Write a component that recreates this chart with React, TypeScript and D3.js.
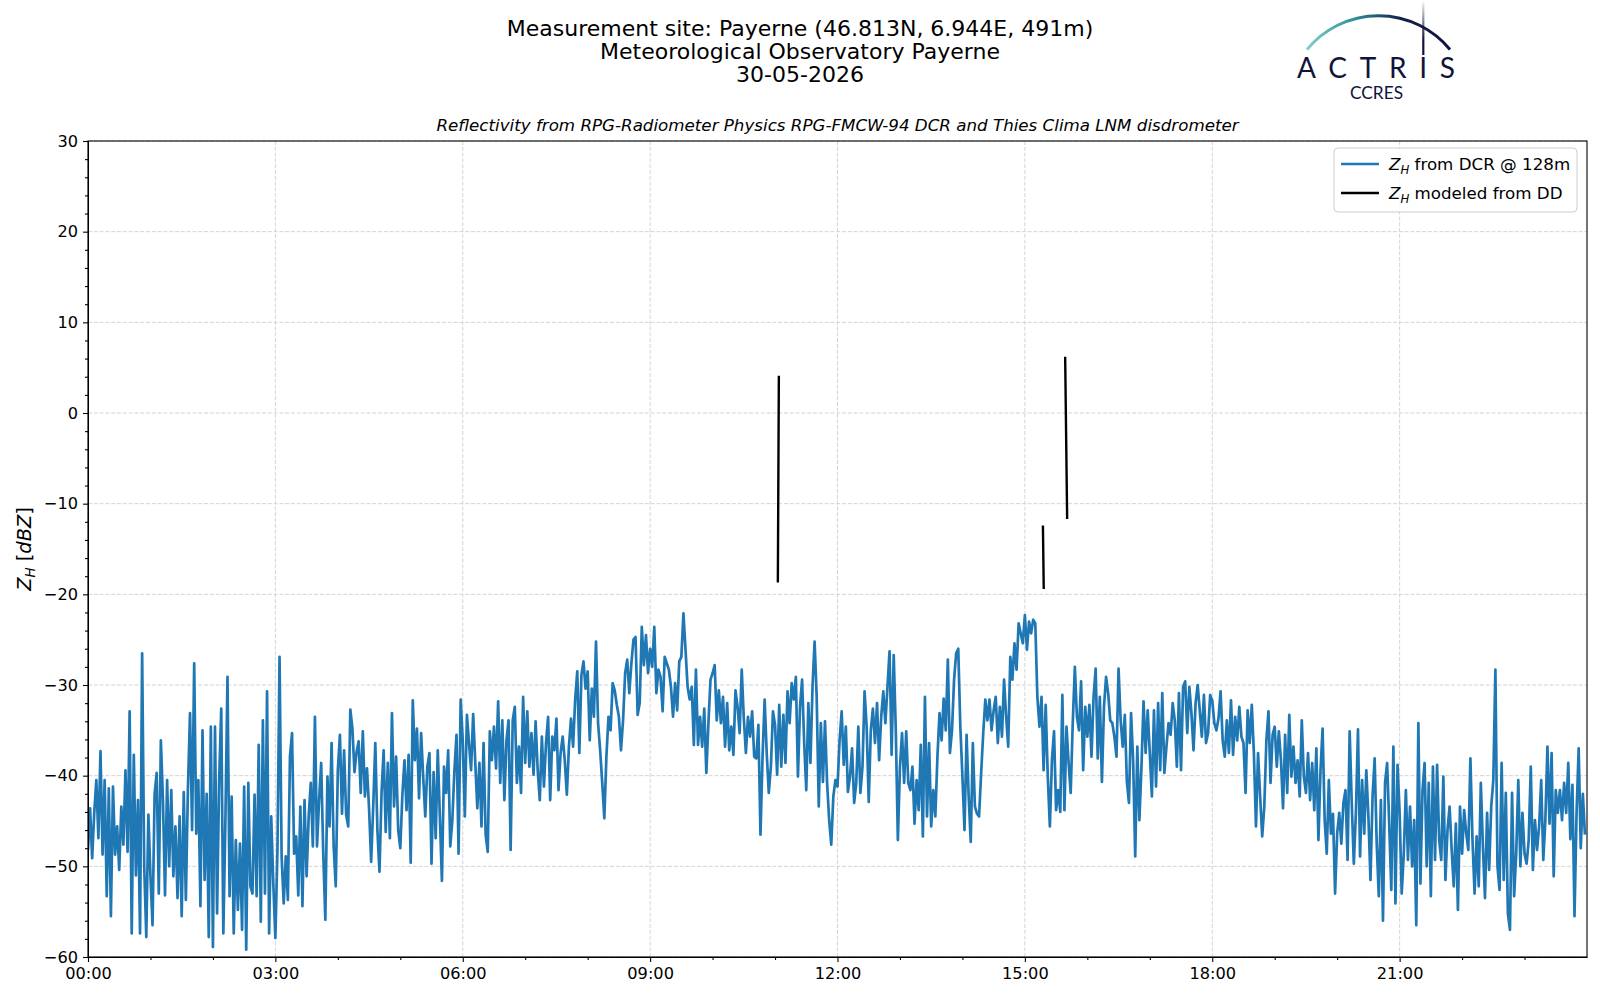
import { useEffect, useRef } from 'react';
import * as d3 from 'd3';

const titleLines = [
  'Measurement site: Payerne (46.813N, 6.944E, 491m)',
  'Meteorological Observatory Payerne',
  '30-05-2026',
];
const subtitle = 'Reflectivity from RPG-Radiometer Physics RPG-FMCW-94 DCR and Thies Clima LNM disdrometer';

const xTickHours = [0, 3, 6, 9, 12, 15, 18, 21];
const xTickLabels = ['00:00', '03:00', '06:00', '09:00', '12:00', '15:00', '18:00', '21:00'];
const yTicks = [-60, -50, -40, -30, -20, -10, 0, 10, 20, 30];

// DCR reflectivity at 128 m, one value every 2 minutes (30 per hour row)
const dcrStepMinutes = 2;
const dcrZh: number[] = [
  // 00h
  -48.2, -43.6, -49.1, -44.1, -40.5, -46.9, -37.3, -48.7, -40.5, -53.3, -41.4, -55.5, -41.2, -48.7, -45.6, -50.4, -43.4, -47.6, -39.4, -48.4, -32.9, -57.4, -37.7, -51.0, -42.7, -57.4, -26.5, -50.0, -57.8, -44.3,
  // 01h
  -51.1, -56.5, -42.0, -39.7, -53.0, -36.1, -42.7, -53.2, -40.5, -50.0, -41.6, -51.1, -45.6, -53.5, -44.5, -55.5, -41.8, -53.7, -41.4, -33.1, -46.0, -27.6, -46.4, -40.5, -54.4, -35.0, -51.5, -42.0, -57.8, -34.6,
  // 02h
  -58.9, -34.6, -55.2, -40.5, -32.6, -57.4, -44.9, -29.1, -53.3, -42.3, -57.4, -47.1, -54.8, -47.5, -57.0, -41.2, -59.2, -40.8, -52.2, -53.0, -42.1, -53.3, -36.6, -56.1, -33.9, -53.0, -30.7, -57.4, -44.5, -51.9,
  // 03h
  -57.9, -48.2, -26.9, -48.9, -54.1, -48.9, -53.7, -37.9, -35.3, -48.6, -46.7, -53.2, -43.4, -54.4, -42.7, -51.1, -44.5, -40.8, -47.8, -33.5, -47.8, -42.7, -38.6, -48.6, -55.9, -40.1, -45.6, -36.4, -47.8, -52.2,
  // 04h
  -39.4, -35.5, -44.2, -37.2, -44.3, -45.6, -32.7, -34.8, -39.6, -37.4, -36.2, -41.9, -35.1, -42.3, -39.2, -43.6, -49.5, -43.4, -36.4, -46.0, -50.6, -41.9, -37.2, -46.2, -38.6, -46.9, -33.1, -43.4, -37.9, -46.0,
  // 05h
  -48.0, -42.1, -38.3, -43.8, -37.7, -49.6, -31.7, -38.3, -34.8, -42.5, -35.3, -40.1, -44.5, -39.0, -37.5, -49.7, -39.6, -46.9, -37.2, -44.5, -51.6, -39.0, -41.9, -37.2, -47.8, -44.9, -39.4, -35.5, -48.6, -31.6,
  // 06h
  -36.1, -44.5, -33.3, -36.4, -39.4, -33.2, -38.5, -43.6, -38.6, -45.6, -36.4, -46.5, -48.4, -35.1, -38.3, -34.6, -39.2, -31.8, -40.8, -33.9, -42.7, -36.1, -33.9, -48.2, -33.9, -32.4, -40.8, -36.8, -41.9, -31.3,
  // 07h
  -38.6, -32.9, -39.0, -35.3, -39.9, -34.0, -39.4, -42.7, -35.7, -41.2, -36.4, -33.5, -42.7, -35.7, -37.2, -33.7, -41.6, -37.5, -35.7, -38.3, -42.1, -36.8, -33.7, -36.8, -31.6, -28.5, -37.5, -28.9, -27.4, -30.4,
  // 08h
  -28.5, -36.1, -30.4, -33.5, -25.2, -34.2, -37.2, -40.8, -44.7, -37.9, -33.5, -35.0, -29.8, -30.6, -32.2, -33.5, -37.2, -33.9, -28.7, -27.2, -30.9, -27.6, -25.0, -24.7, -33.3, -32.0, -23.6, -27.8, -24.5, -28.7,
  // 09h
  -26.0, -28.0, -23.6, -30.9, -28.3, -29.1, -32.9, -26.9, -27.6, -28.3, -30.2, -33.5, -29.8, -32.8, -27.4, -26.9, -22.1, -26.1, -30.2, -31.6, -30.2, -36.6, -28.3, -36.6, -33.5, -36.8, -32.6, -39.7, -34.2, -29.4,
  // 10h
  -28.7, -27.8, -33.9, -30.6, -34.2, -31.3, -36.8, -32.0, -37.2, -34.6, -37.7, -30.6, -32.4, -35.3, -28.3, -33.7, -37.5, -33.5, -35.7, -32.9, -37.9, -38.1, -34.4, -46.5, -37.9, -31.6, -37.5, -41.9, -39.0, -32.9,
  // 11h
  -34.4, -39.9, -32.2, -39.0, -33.3, -38.6, -30.7, -34.2, -29.8, -31.6, -29.1, -40.1, -32.4, -29.4, -36.4, -41.6, -32.0, -38.6, -30.2, -25.2, -31.3, -43.4, -34.2, -40.7, -34.0, -40.8, -44.9, -47.6, -42.3, -40.5,
  // 12h
  -41.2, -36.1, -32.9, -38.8, -34.6, -41.8, -40.1, -37.0, -43.0, -40.8, -34.6, -41.9, -39.0, -30.7, -34.6, -42.9, -35.0, -32.6, -36.4, -32.0, -38.3, -33.5, -30.7, -34.2, -30.2, -26.3, -37.7, -26.7, -35.0, -47.1,
  // 13h
  -39.0, -35.3, -40.8, -35.1, -40.8, -41.6, -39.0, -45.3, -40.5, -43.8, -36.6, -46.7, -31.3, -44.5, -36.4, -45.6, -41.6, -44.5, -37.9, -33.1, -36.1, -31.5, -35.0, -27.2, -37.5, -35.0, -29.4, -26.5, -26.0, -34.6,
  // 14h
  -40.1, -46.0, -35.5, -42.3, -47.3, -36.4, -43.4, -44.2, -44.5, -39.7, -35.3, -31.6, -33.9, -31.6, -35.0, -32.8, -31.3, -36.4, -32.4, -35.7, -29.4, -33.5, -36.8, -26.9, -29.4, -25.4, -28.3, -23.2, -24.3, -25.4,
  // 15h
  -22.3, -26.1, -23.0, -24.3, -22.8, -23.2, -31.3, -34.6, -31.3, -39.4, -32.2, -40.1, -45.6, -38.3, -35.1, -43.8, -41.6, -44.0, -31.1, -43.8, -34.6, -38.6, -41.9, -34.2, -28.0, -33.5, -35.0, -29.6, -39.4, -32.4,
  // 16h
  -35.7, -32.2, -37.9, -31.3, -28.2, -38.1, -31.3, -40.7, -32.4, -29.1, -30.9, -33.9, -34.2, -35.7, -37.9, -28.2, -33.9, -36.8, -33.3, -40.7, -43.0, -33.1, -38.3, -48.9, -36.8, -44.9, -39.0, -31.8, -37.5, -32.8,
  // 17h
  -37.5, -42.3, -32.8, -41.2, -32.0, -39.4, -30.9, -39.7, -36.8, -34.2, -35.5, -32.0, -33.9, -39.0, -30.9, -39.4, -30.2, -29.6, -35.3, -30.2, -33.1, -37.2, -32.0, -30.0, -32.8, -35.7, -31.1, -36.4, -35.3, -31.1,
  // 18h
  -31.7, -34.2, -35.0, -33.7, -30.7, -36.1, -37.9, -33.9, -37.5, -31.7, -37.7, -33.5, -36.1, -32.4, -35.7, -36.4, -41.9, -32.8, -36.4, -32.2, -37.5, -45.6, -37.5, -42.3, -46.7, -43.4, -36.1, -32.9, -40.8, -35.5,
  // 19h
  -34.6, -39.0, -35.1, -38.3, -43.6, -35.5, -41.9, -33.3, -40.1, -36.8, -40.8, -38.3, -42.3, -33.9, -40.1, -41.9, -37.5, -42.7, -38.6, -43.8, -37.0, -47.1, -39.4, -34.8, -44.9, -48.6, -40.5, -46.4, -44.2, -53.0,
  // 20h
  -46.4, -44.1, -47.5, -43.0, -41.6, -49.3, -35.1, -43.0, -49.7, -44.1, -34.9, -48.9, -40.5, -46.4, -39.4, -44.5, -51.5, -42.3, -38.1, -47.5, -53.3, -42.7, -56.0, -40.8, -38.6, -45.3, -52.6, -36.8, -54.1, -38.8,
  // 21h
  -44.1, -53.0, -48.6, -41.6, -49.3, -43.4, -50.0, -44.9, -56.5, -34.2, -51.9, -41.6, -38.6, -50.0, -40.8, -53.3, -39.0, -49.3, -38.8, -47.1, -49.3, -40.1, -51.5, -46.0, -43.4, -48.2, -52.2, -45.3, -54.8, -43.4,
  // 22h
  -48.6, -43.8, -46.4, -48.2, -38.1, -47.1, -53.0, -46.7, -52.2, -40.8, -47.8, -53.5, -44.1, -50.4, -43.4, -40.5, -28.3, -50.0, -52.6, -38.6, -51.5, -41.9, -55.2, -57.0, -41.9, -53.3, -48.6, -40.5, -50.0, -44.1,
  // 23h
  -48.6, -49.7, -47.1, -39.0, -50.4, -44.9, -48.2, -45.6, -40.5, -49.3, -44.9, -36.8, -45.3, -37.5, -51.1, -41.6, -44.1, -41.6, -44.9, -40.8, -44.1, -38.6, -47.0, -41.0, -55.5, -44.0, -37.0, -48.0, -42.0, -46.5,
];

// reflectivity modeled from the disdrometer drop size distribution (null = gap)
const ddHours = [11.045, 11.061, 11.2, 15.289, 15.302, 15.5, 15.645, 15.677];
const ddZh: (number | null)[] = [-18.7, 4.1, null, -12.4, -19.4, null, 6.2, -11.7];

const legendLabels = [' from DCR @ 128m', ' modeled from DD'];
const legendColors = ['#1f77b4', '#000000'];

const FONT = '"DejaVu Sans", sans-serif';

export default function App() {
  const svgRef = useRef<SVGSVGElement>(null);

  useEffect(() => {
    if (!svgRef.current) return;
    const svg = d3.select(svgRef.current);
    svg.selectAll('*').remove();

    const margin = { top: 141, right: 13, bottom: 43, left: 88 };
    const W = 1600, H = 1000;
    const x = d3.scaleLinear().domain([0, 24]).range([margin.left, W - margin.right]);
    const y = d3.scaleLinear().domain([-60, 30]).range([H - margin.bottom, margin.top]);

    const defs = svg.append('defs');
    defs.append('clipPath').attr('id', 'plot-clip').append('rect')
      .attr('x', margin.left).attr('y', margin.top)
      .attr('width', W - margin.left - margin.right).attr('height', H - margin.top - margin.bottom);

    // titles
    svg.append('g').selectAll('text').data(titleLines).join('text')
      .attr('x', 800).attr('y', (_, i) => 36 + i * 23.2)
      .attr('text-anchor', 'middle').attr('font-family', FONT).attr('font-size', 22)
      .text((d) => d);
    svg.append('text').attr('x', (x(0) + x(24)) / 2).attr('y', 131)
      .attr('text-anchor', 'middle').attr('font-family', FONT).attr('font-size', 16.7)
      .attr('font-style', 'italic').text(subtitle);

    // grid
    const grid = svg.append('g').attr('stroke', '#d4d4d4').attr('stroke-width', 1).attr('stroke-dasharray', '4,1.8');
    grid.selectAll('.gx').data(xTickHours).join('line').attr('class', 'gx')
      .attr('x1', (d) => x(d)).attr('x2', (d) => x(d)).attr('y1', y(-60)).attr('y2', y(30));
    grid.selectAll('.gy').data(yTicks).join('line').attr('class', 'gy')
      .attr('x1', x(0)).attr('x2', x(24)).attr('y1', (d) => y(d)).attr('y2', (d) => y(d));

    // series
    const plot = svg.append('g').attr('clip-path', 'url(#plot-clip)');
    const dcrLine = d3.line<number>()
      .x((_, i) => x((i * dcrStepMinutes) / 60))
      .y((d) => y(d));
    plot.append('path').datum(dcrZh).attr('d', dcrLine)
      .attr('fill', 'none').attr('stroke', legendColors[0]).attr('stroke-width', 2.7)
      .attr('stroke-linejoin', 'round');

    const ddLine = d3.line<number>()
      .defined((_, i) => ddZh[i] !== null)
      .x((_, i) => x(ddHours[i]))
      .y((_, i) => y(ddZh[i] ?? 0));
    plot.append('path').datum(ddHours).attr('d', ddLine)
      .attr('fill', 'none').attr('stroke', legendColors[1]).attr('stroke-width', 2.4);

    // axes
    const fmtY = (d: d3.NumberValue) => (+d < 0 ? `\u2212${Math.abs(+d)}` : `${d}`);
    const xAxis = svg.append('g').attr('transform', `translate(0,${y(-60)})`)
      .call(d3.axisBottom(x).tickValues(xTickHours).tickSize(5).tickPadding(5).tickSizeOuter(0)
        .tickFormat((_, i) => xTickLabels[i]));
    svg.append('g').attr('transform', `translate(0,${y(-60)})`)
      .call(d3.axisBottom(x).tickValues(d3.range(0, 24, 1).filter((h) => h % 3 !== 0)).tickSize(3).tickSizeOuter(0).tickFormat(() => ''))
      .call((g) => g.select('.domain').remove());
    const yAxis = svg.append('g').attr('transform', `translate(${x(0)},0)`)
      .call(d3.axisLeft(y).tickValues(yTicks).tickSize(5).tickPadding(5).tickSizeOuter(0).tickFormat(fmtY));
    svg.append('g').attr('transform', `translate(${x(0)},0)`)
      .call(d3.axisLeft(y).tickValues(d3.range(-60, 31, 2).filter((v) => v % 10 !== 0)).tickSize(3).tickSizeOuter(0).tickFormat(() => ''))
      .call((g) => g.select('.domain').remove());
    [xAxis, yAxis].forEach((g) => {
      g.selectAll('text').attr('font-family', FONT).attr('font-size', 16.2).attr('fill', '#000');
    });
    svg.selectAll('.tick line').attr('stroke', '#000').attr('stroke-width', 1.1);

    // frame
    svg.append('rect').attr('x', x(0)).attr('y', y(30))
      .attr('width', x(24) - x(0)).attr('height', y(-60) - y(30))
      .attr('fill', 'none').attr('stroke', '#000').attr('stroke-width', 1.1);

    // y label
    const yl = svg.append('text').attr('transform', `translate(31,${(y(-60) + y(30)) / 2}) rotate(-90)`)
      .attr('text-anchor', 'middle').attr('font-family', FONT).attr('font-size', 19.4);
    yl.append('tspan').attr('font-style', 'italic').text('Z');
    yl.append('tspan').attr('font-style', 'italic').attr('font-size', 13.5).attr('dy', 4).text('H');
    yl.append('tspan').attr('dy', -4).text(' [');
    yl.append('tspan').attr('font-style', 'italic').text('dBZ');
    yl.append('tspan').text(']');

    // legend
    const lg = svg.append('g');
    lg.append('rect').attr('x', 1334).attr('y', 148).attr('width', 243).attr('height', 64).attr('rx', 4)
      .attr('fill', '#fff').attr('fill-opacity', 0.8).attr('stroke', '#cccccc').attr('stroke-width', 1);
    legendLabels.forEach((lab, i) => {
      const ly = 164 + i * 29;
      lg.append('line').attr('x1', 1341).attr('x2', 1379).attr('y1', ly).attr('y2', ly)
        .attr('stroke', legendColors[i]).attr('stroke-width', 2.7);
      const t = lg.append('text').attr('x', 1389).attr('y', ly + 6)
        .attr('font-family', FONT).attr('font-size', 16.7);
      t.append('tspan').attr('font-style', 'italic').text('Z');
      t.append('tspan').attr('font-style', 'italic').attr('font-size', 11.7).attr('dy', 3.5).text('H');
      t.append('tspan').attr('dy', -3.5).text(lab);
    });

    // ACTRIS / CCRES logo
    const arcGrad = defs.append('linearGradient').attr('id', 'arc-grad')
      .attr('gradientUnits', 'userSpaceOnUse').attr('x1', 1307).attr('x2', 1450).attr('y1', 0).attr('y2', 0);
    arcGrad.append('stop').attr('offset', '0%').attr('stop-color', '#7fcfc8');
    arcGrad.append('stop').attr('offset', '35%').attr('stop-color', '#2a8b98');
    arcGrad.append('stop').attr('offset', '65%').attr('stop-color', '#15204a');
    arcGrad.append('stop').attr('offset', '100%').attr('stop-color', '#10133a');
    const poleGrad = defs.append('linearGradient').attr('id', 'pole-grad')
      .attr('gradientUnits', 'userSpaceOnUse').attr('x1', 0).attr('x2', 0).attr('y1', 0).attr('y2', 40);
    poleGrad.append('stop').attr('offset', '0%').attr('stop-color', '#10133a').attr('stop-opacity', 0);
    poleGrad.append('stop').attr('offset', '100%').attr('stop-color', '#10133a').attr('stop-opacity', 1);
    const logo = svg.append('g');
    logo.append('path').attr('d', 'M1307,49.5 A92.6,92.6 0 0 1 1450,49.5')
      .attr('fill', 'none').attr('stroke', 'url(#arc-grad)').attr('stroke-width', 3);
    logo.append('line').attr('x1', 1423.3).attr('x2', 1423.3).attr('y1', 1).attr('y2', 55)
      .attr('stroke', 'url(#pole-grad)').attr('stroke-width', 2.2);
    logo.append('text').attr('x', 1297).attr('y', 78).attr('textLength', 158).attr('lengthAdjust', 'spacing')
      .attr('font-family', 'Lato, "Open Sans", sans-serif').attr('font-size', 28).attr('fill', '#10133a')
      .text('ACTRIS');
    logo.append('text').attr('x', 1350).attr('y', 99).attr('textLength', 53).attr('lengthAdjust', 'spacingAndGlyphs')
      .attr('font-family', 'Lato, "Open Sans", sans-serif').attr('font-size', 17.5).attr('fill', '#10133a')
      .text('CCRES');
  }, []);

  return (
    <svg ref={svgRef} width={1600} height={1000}
      style={{ position: 'absolute', left: 0, top: 0, background: '#fff', display: 'block' }} />
  );
}
